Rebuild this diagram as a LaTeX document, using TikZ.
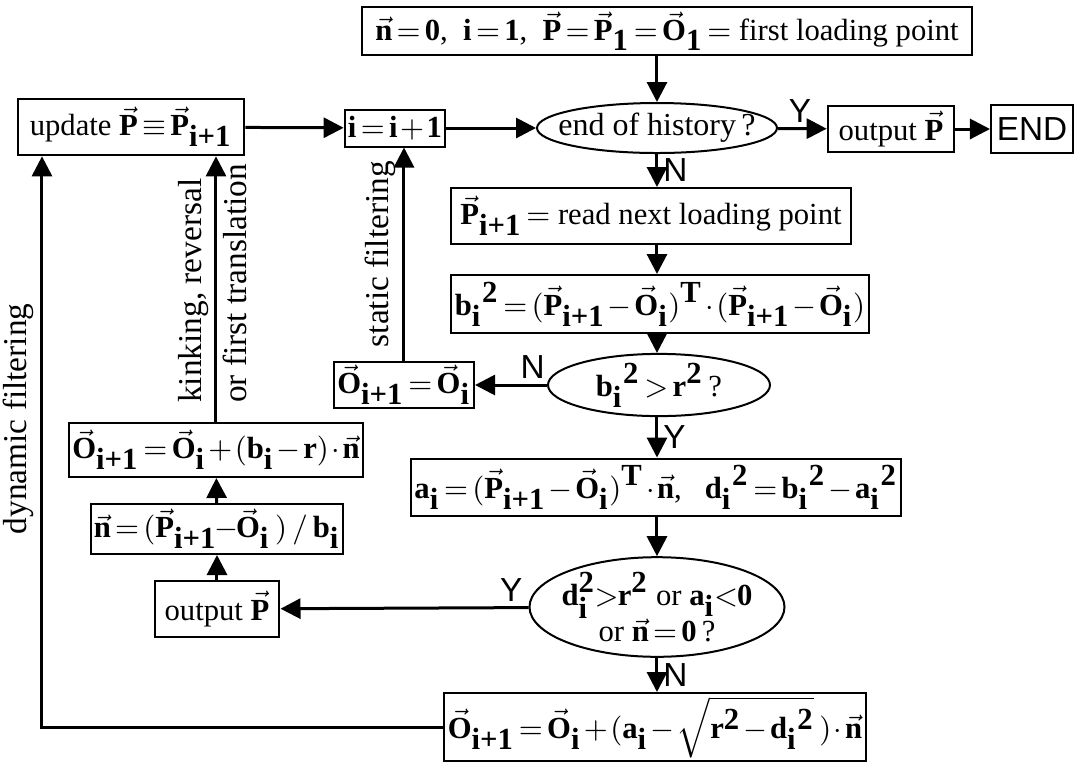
\documentclass[tikz,border=0pt]{standalone}
\usepackage{fontspec}
\setmainfont{Liberation Serif}
\setsansfont{Liberation Sans}
\usetikzlibrary{shapes.geometric, arrows.meta}
\newcommand{\vecb}[1]{\vec{\textbf{#1}}}
\newcommand{\bft}[1]{\textbf{#1}}
\tikzstyle{box} = [rectangle, draw=black, line width=0.6pt, inner sep=1pt, align=center]
\tikzstyle{query} = [ellipse, draw=black, line width=0.6pt, inner sep=0pt, align=center]
\tikzstyle{arrow} = [line width=0.9pt, -{Triangle[length=6pt,width=6pt]}]
\tikzstyle{yn} = [font=\sffamily\fontsize{10}{10}\selectfont, inner sep=1.5pt]
\tikzstyle{lbl} = [font=\fontsize{10}{11}\selectfont, inner sep=2pt]

\begin{document}
\begin{tikzpicture}[x=0.3pt, y=-0.3pt, font={\fontsize{9.2}{11}\selectfont\thickmuskip=2.5mu\medmuskip=1.5mu}]
\useasboundingbox (0,0) rectangle (1078,763);
% main column
\node(init)[box, minimum width=183pt, minimum height=14.4pt] at (667,31) {$\vecb{n}=\bft{0}$,\ \ $\bft{i}=\bft{1}$,\ \ $\vecb{P}=\vecb{P}_{\bft{1}}=\vecb{O}_{\bft{1}}=$ first loading point};
\node(hist)[query, inner xsep=-6pt, inner ysep=-1pt, minimum width=72pt, minimum height=15pt] at (657,128) {\fontsize{9.6}{11}\selectfont end of history\,?};
\node(outend)[box, minimum width=38pt, minimum height=13.8pt] at (891,129) {output $\vecb{P}$};
\node(fin)[box, minimum width=24.6pt, minimum height=14.4pt, font=\sffamily\fontsize{10}{11}\selectfont] at (1032,129) {END};
\node(incr)[box, minimum width=29.7pt, minimum height=11.1pt] at (395,128) {$\bft{i}=\bft{i}+\bft{1}$};
\node(upd)[box, minimum width=68pt, minimum height=17pt] at (131,127) {update $\vecb{P}\equiv\vecb{P}_{\bft{i+1}}$};
\node(read)[box, minimum width=120pt, minimum height=16.8pt] at (651,216) {$\vecb{P}_{\bft{i+1}}=$ read next loading point};
\node(bsq)[box, minimum width=118pt, minimum height=17.4pt] at (660,304) {$\bft{b}_{\bft{i}}{}^{\bft{2}}=(\vecb{P}_{\bft{i+1}}-\vecb{O}_{\bft{i}})^{\bft{T}}\cdot(\vecb{P}_{\bft{i+1}}-\vecb{O}_{\bft{i}})$};
\node(test1)[query, minimum width=66.6pt, minimum height=13.8pt] at (659,385) {$\bft{b}_{\bft{i}}{}^{\bft{2}}>\bft{r}^{\bft{2}}$\,?};
\node(keep)[box, minimum width=42pt, minimum height=13.8pt] at (404,385) {$\vecb{O}_{\bft{i+1}}=\vecb{O}_{\bft{i}}$};
\node(proj)[box, minimum width=138pt, minimum height=17.1pt] at (656,487) {$\bft{a}_{\bft{i}}=(\vecb{P}_{\bft{i+1}}-\vecb{O}_{\bft{i}})^{\bft{T}}\cdot\vecb{n}$,\ \ \ $\bft{d}_{\bft{i}}{}^{\bft{2}}=\bft{b}_{\bft{i}}{}^{\bft{2}}-\bft{a}_{\bft{i}}{}^{\bft{2}}$};
\node(test2)[query, inner xsep=-2pt, minimum width=76.5pt, minimum height=29pt] at (657,607) {$\bft{d}_{\bft{i}}^{\bft{2}}\!>\!\bft{r}^{\bft{2}}$ or $\bft{a}_{\bft{i}}\!<\!\bft{0}$\\ or $\vecb{n}=\bft{0}$\,?};
\node(slide)[box, minimum width=119.4pt, minimum height=17.1pt] at (655,727) {$\vecb{O}_{\bft{i+1}}=\vecb{O}_{\bft{i}}+(\bft{a}_{\bft{i}}-\sqrt{\bft{r}^{\bft{2}}-\bft{d}_{\bft{i}}{}^{\bft{2}}}\,)\cdot\vecb{n}$};
% left column
\node(outleft)[box, minimum width=37.5pt, minimum height=16.8pt] at (217,609) {output $\vecb{P}$};
\node(dir)[box, minimum width=68.7pt, minimum height=15pt] at (217,529) {$\vecb{n}=(\vecb{P}_{\bft{i+1}}\!-\!\vecb{O}_{\bft{i}}\,)\,/\,\bft{b}_{\bft{i}}$};
\node(move)[box, minimum width=87.3pt, minimum height=16.2pt] at (216,450) {$\vecb{O}_{\bft{i+1}}=\vecb{O}_{\bft{i}}+(\bft{b}_{\bft{i}}-\bft{r})\cdot\vecb{n}$};
\coordinate(dyn) at (42,727);
\coordinate(kink) at (216,410);

% connectors
\draw[arrow] (hist |- init.south) -- (hist.north);
\draw[arrow] (hist) -- node[yn, above, pos=0.45]{Y} (outend);
\draw[arrow] (outend) -- (fin);
\draw[arrow] (upd) -- (incr);
\draw[arrow] (incr) -- (hist);
\draw[arrow] (hist.south) -- node[yn, right]{N} (hist.south |- read.north);
\draw[arrow] (hist.south |- read.south) -- (hist.south |- bsq.north);
\draw[arrow] (hist.south |- bsq.south) -- (hist.south |- test1.north);
\draw[arrow] (test1) -- node[yn, above, pos=0.2]{N} (keep);
\draw[arrow] (hist.south |- test1.south) -- node[yn, right]{Y} (hist.south |- proj.north);
\draw[arrow] (hist.south |- proj.south) -- (hist.south |- test2.north);
\draw[arrow] (test2) -- node[yn, above, pos=0.07]{Y} (outleft);
\draw[arrow] (hist.south |- test2.south) -- node[yn, right]{N} (hist.south |- slide.north);
\draw[arrow] (outleft) -- (dir);
\draw[arrow] (dir) -- (move);
\draw[arrow] (keep.north) -- node[lbl, sloped, above]{static filtering} (keep.north |- incr.south);
\draw[arrow] (move.north) -- (move.north |- upd.south);
\node[lbl, rotate=90, anchor=south west] at (kink) {kinking, reversal};
\node[lbl, rotate=90, anchor=north west] at (kink) {or first translation};
\draw[arrow] (slide.west) -- (dyn) -- node[lbl, sloped, above, pos=0.54]{dynamic filtering} (dyn |- upd.south);

\end{tikzpicture}
\end{document}
